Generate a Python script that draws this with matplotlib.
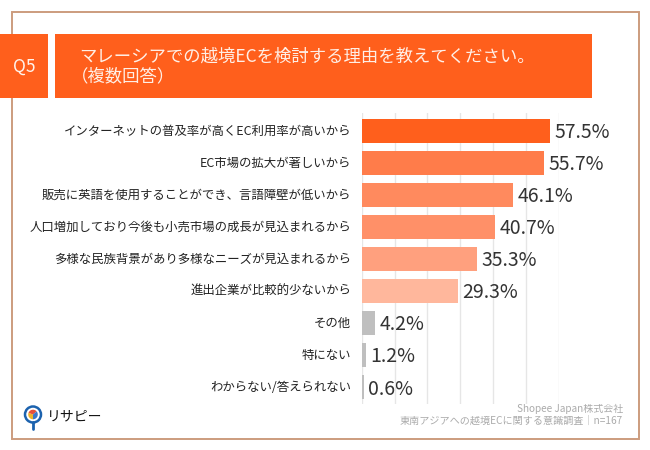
import matplotlib
matplotlib.use("Agg")
import matplotlib.pyplot as plt
from matplotlib.patches import Circle, Rectangle, Wedge
from matplotlib.transforms import ScaledTranslation

plt.rcParams["font.family"] = ["Noto Sans CJK JP", "DejaVu Sans"]

labels = [
    "インターネットの普及率が高くEC利用率が高いから",
    "EC市場の拡大が著しいから",
    "販売に英語を使用することができ、言語障壁が低いから",
    "人口増加しており今後も小売市場の成長が見込まれるから",
    "多様な民族背景があり多様なニーズが見込まれるから",
    "進出企業が比較的少ないから",
    "その他",
    "特にない",
    "わからない/答えられない",
]
values = [57.5, 55.7, 46.1, 40.7, 35.3, 29.3, 4.2, 1.2, 0.6]
colors = ["#FF5F1C", "#FF7C4A", "#FF8A5E", "#FF9068", "#FFA07E", "#FFB79C",
          "#BFBFBF", "#BFBFBF", "#BFBFBF"]
grid_ticks = [0, 10, 20, 30, 40, 50, 60]

W, H = 650, 450
ORANGE = "#FF5F1C"
FRAME = "#CC9C7E"

fig = plt.figure(figsize=(6.5, 4.5), dpi=100, facecolor="white")

# page furniture in pixel coordinates
bg = fig.add_axes([0, 0, 1, 1])
bg.set_xlim(0, W)
bg.set_ylim(H, 0)
bg.axis("off")
bg.add_patch(Rectangle((11.5, 12), 627.5, 426.5, fill=False, ec=FRAME, lw=1.4))
bg.add_patch(Rectangle((0, 34), 48, 64, color=ORANGE, lw=0))
bg.add_patch(Rectangle((55, 34), 537, 64, color=ORANGE, lw=0))
bg.text(24, 66.5, "Q5", color="#FFF3EC", fontsize=12.5, ha="center", va="center")
bg.text(79.5, 56.5, "マレーシアでの越境ECを検討する理由を教えてください。",
        color="#FFEFE6", fontsize=12.5, ha="left", va="center")
bg.text(71, 76.5, "（複数回答）", color="#FFEFE6", fontsize=12.5, ha="left", va="center")

# logo
bg.plot([33, 33], [422, 428.5], color="#1C62AE", lw=2, solid_capstyle="round")
bg.add_patch(Circle((33, 414.5), 8, fc="white", ec="#1C62AE", lw=1.8))
bg.add_patch(Wedge((33, 414.5), 4.8, 90, 200, color="#F0B429", lw=0))
bg.add_patch(Wedge((33, 414.5), 4.8, 200, 320, color="#E8503A", lw=0))
bg.add_patch(Wedge((33, 414.5), 4.8, 320, 450, color="#3C78C8", lw=0))
bg.text(47, 416, "リサピー", color="#111111", fontsize=10, ha="left", va="center")

# footer
bg.text(623, 408.5, "Shopee Japan株式会社", color="#ABABAB", fontsize=7.2,
        ha="right", va="center")
bg.text(623, 421, "東南アジアへの越境ECに関する意識調査｜n=167", color="#ABABAB",
        fontsize=7.25, ha="right", va="center")

# bars
left, right, top, bottom = 361.7, 558.5, 113, 404
ax = fig.add_axes([left / W, 1 - bottom / H, (right - left) / W, (bottom - top) / H])
ax.patch.set_alpha(0)
y = list(range(len(values)))
ax.barh(y, values, height=0.74, color=colors, zorder=3)
ax.set_xlim(0, 60)
ax.set_ylim(8.52, -0.56)
ax.set_xticks(grid_ticks)
ax.set_yticks(y)
ax.set_yticklabels(labels, fontsize=8.95, color="#222222")
ax.tick_params(axis="both", length=0, pad=7.5)
ax.tick_params(axis="x", labelbottom=False)
ax.grid(axis="x", color="#E6E6E6", lw=1, zorder=0)
for s in ax.spines.values():
    s.set_visible(False)

# labels sit about a pixel above the bar centre
nudge = ScaledTranslation(0, 1 / 100, fig.dpi_scale_trans)
for t in ax.get_yticklabels():
    t.set_transform(t.get_transform() + nudge)

for i, v in enumerate(values):
    ax.annotate(f"{v:.1f}%", (v, i), xytext=(3.2, -1.2), textcoords="offset points",
                fontsize=14, color="#333333", va="center", ha="left",
                annotation_clip=False, zorder=4)

fig.savefig("out.png", dpi=100)
